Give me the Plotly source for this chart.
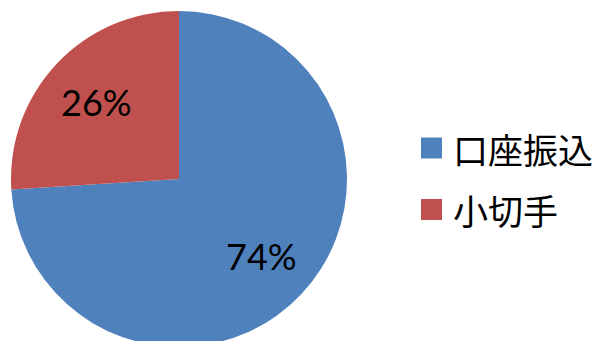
import math
import plotly.graph_objects as go

categories = ["口座振込", "小切手"]
shares = [74, 26]
colors = ["#4F81BD", "#C0504D"]

OFF = 8                     # page body margin of the rendered html
W, H = 603 - OFF, 350       # figure size in pixels
cx, cy, R = 179 - OFF, 179 - OFF, 168  # pie centre / radius (figure pixels)


def px(x):
    return x / W


def py(y):
    return 1 - y / H


fig = go.Figure(go.Pie(
    labels=categories,
    values=shares,
    sort=False,
    direction="clockwise",
    rotation=0,
    marker=dict(colors=colors, line=dict(color="white", width=0)),
    textinfo="none",
    domain=dict(x=[px(cx - R), px(cx + R)], y=[py(cy + R), py(cy - R)]),
    hoverinfo="label+percent",
    showlegend=False,
))

# percentage labels placed along each slice's mid-angle
total = sum(shares)
start = 0.0
for v in shares:
    frac = v / total
    mid = (start + frac / 2) * 2 * math.pi
    start += frac
    x = cx + 0.67 * R * math.sin(mid)
    y = cy - 0.67 * R * math.cos(mid)
    fig.add_annotation(x=px(x), y=py(y), xref="paper", yref="paper",
                       xanchor="center", yanchor="middle",
                       text=f"{round(frac * 100)}%", showarrow=False,
                       font=dict(family="Lato, Noto Sans", size=36, color="black"))

# legend
for i, (name, col) in enumerate(zip(categories, colors)):
    yc = 148 - OFF + i * 61.5
    fig.add_shape(type="rect", xref="paper", yref="paper",
                  x0=px(421 - OFF), x1=px(442 - OFF), y0=py(yc - 10.5), y1=py(yc + 10.5),
                  fillcolor=col, line=dict(width=0))
    fig.add_annotation(x=px(451 - OFF), y=py(yc), xref="paper", yref="paper",
                       xanchor="left", yanchor="middle", text=name, showarrow=False,
                       font=dict(family="Noto Sans CJK JP", size=35, color="black"))

fig.update_layout(
    width=W, height=H,
    margin=dict(l=0, r=0, t=0, b=0),
    paper_bgcolor="white",
    showlegend=False,
)
fig.write_html("out.html")
